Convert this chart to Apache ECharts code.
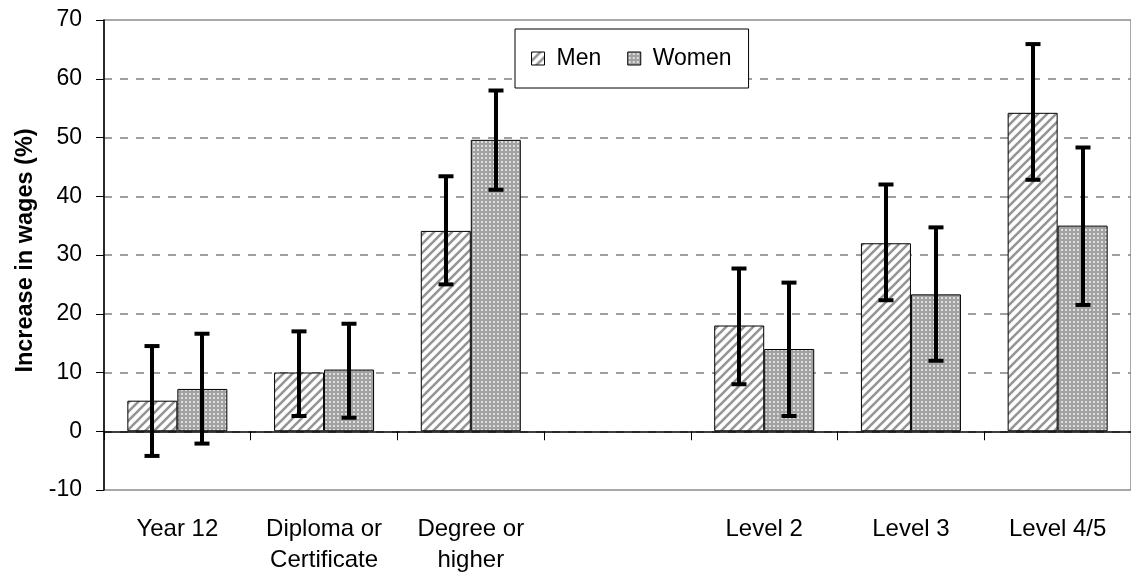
<!DOCTYPE html>
<html>
<head>
<meta charset="utf-8">
<script src="https://cdn.jsdelivr.net/npm/echarts@6/dist/echarts.min.js"></script>
<style>
html,body{margin:0;padding:0;background:#fff;}
#chart{width:1131px;height:576px;}
</style>
</head>
<body>
<div id="chart"></div>
<script>
const categories = ['Year 12', 'Diploma or\nCertificate', 'Degree or\nhigher', '', 'Level 2', 'Level 3', 'Level 4/5'];
const menValues   = [5.2, 10.0, 34.1, '-', 18.0, 32.0, 54.2];
const womenValues = [7.2, 10.5, 49.6, '-', 14.0, 23.3, 35.0];
const menLow      = [-4.2, 2.6, 25.0, '-', 8.0, 22.3, 42.8];
const menHigh     = [14.5, 17.0, 43.4, '-', 27.7, 42.0, 65.9];
const womenLow    = [-2.1, 2.3, 41.1, '-', 2.6, 12.0, 21.5];
const womenHigh   = [16.6, 18.3, 58.0, '-', 25.3, 34.7, 48.3];
const yTicks = {min: -10, max: 70, interval: 10};

function hatchPattern() {
  const c = document.createElement('canvas');
  c.width = 9; c.height = 9;
  const g = c.getContext('2d');
  g.fillStyle = '#ffffff'; g.fillRect(0, 0, 9, 9);
  g.strokeStyle = '#959595'; g.lineWidth = 2.6;
  g.beginPath();
  g.moveTo(-1, 10); g.lineTo(10, -1);
  g.moveTo(-5, 5); g.lineTo(5, -5);
  g.moveTo(4, 14); g.lineTo(14, 4);
  g.stroke();
  return c;
}
function dotPattern() {
  const c = document.createElement('canvas');
  c.width = 4; c.height = 4;
  const g = c.getContext('2d');
  g.fillStyle = '#a2a2a2'; g.fillRect(0, 0, 4, 4);
  g.fillStyle = '#dedede'; g.fillRect(1, 1, 2, 2);
  return c;
}
const menFill = {image: hatchPattern(), repeat: 'repeat'};
const womenFill = {image: dotPattern(), repeat: 'repeat'};
const BAR_W = 50;
const FONT = "'Liberation Sans', Arial, sans-serif";

function errData(lo, hi) {
  return categories.map((c, i) => (lo[i] === '-' ? [i, '-', '-'] : [i, lo[i], hi[i]]));
}
function errRender(offset) {
  return function (params, api) {
    const lo = api.value(1), hi = api.value(2);
    if (isNaN(lo) || isNaN(hi)) return;
    const pLo = api.coord([api.value(0), lo]);
    const pHi = api.coord([api.value(0), hi]);
    const x = Math.round(pLo[0] + offset);
    const cap = 7.5;
    const st = {stroke: '#000', lineWidth: 4};
    return {
      type: 'group',
      children: [
        {type: 'line', shape: {x1: x, y1: pLo[1], x2: x, y2: pHi[1]}, style: st},
        {type: 'line', shape: {x1: x - cap, y1: pLo[1], x2: x + cap, y2: pLo[1]}, style: st},
        {type: 'line', shape: {x1: x - cap, y1: pHi[1], x2: x + cap, y2: pHi[1]}, style: st}
      ]
    };
  };
}

const chart = echarts.init(document.getElementById('chart'), null, {renderer: 'canvas'});
chart.setOption({
  animation: false,
  backgroundColor: '#fff',
  textStyle: {fontFamily: FONT, color: '#000'},
  grid: {left: 104, right: -2, top: 20, bottom: 84.4, show: true, borderColor: '#8c8c8c', borderWidth: 1.5, backgroundColor: 'transparent'},
  legend: {
    data: [
      {name: 'Men', itemStyle: {color: menFill, borderColor: '#000', borderWidth: 1}},
      {name: 'Women', itemStyle: {color: womenFill, borderColor: '#000', borderWidth: 1}}
    ],
    left: 515, top: 29,
    padding: [18, 17, 18, 16],
    borderColor: '#000', borderWidth: 1,
    backgroundColor: '#fff',
    icon: 'rect', itemWidth: 13, itemHeight: 13, itemGap: 26,
    textStyle: {fontSize: 23, color: '#000', fontFamily: FONT, padding: [0, 0, 0, 7]}
  },
  xAxis: [
    {
      type: 'category', data: categories, position: 'bottom',
      axisLine: {onZero: true, lineStyle: {color: '#000', width: 1.5}},
      axisTick: {show: true, length: 9, lineStyle: {color: '#000', width: 1}},
      axisLabel: {show: false}, splitLine: {show: false}
    },
    {
      type: 'category', data: categories, position: 'bottom',
      axisLine: {show: false, onZero: false}, axisTick: {show: false},
      axisLabel: {show: true, interval: 0, margin: 24, fontSize: 24, lineHeight: 31, color: '#000', fontFamily: FONT},
      splitLine: {show: false}
    }
  ],
  yAxis: {
    type: 'value', min: yTicks.min, max: yTicks.max, interval: yTicks.interval,
    name: 'Increase in wages (%)', nameLocation: 'middle', nameRotate: 90, nameGap: 66,
    nameTextStyle: {fontSize: 23.5, fontWeight: 'bold', color: '#000', fontFamily: FONT, padding: [0, 0, 0, 9]},
    axisLine: {show: true, lineStyle: {color: '#000', width: 1.5}},
    axisTick: {show: true, length: 8, lineStyle: {color: '#000', width: 1}},
    axisLabel: {fontSize: 23, margin: 22, color: '#000', fontFamily: FONT},
    splitLine: {show: true, showMinLine: false, showMaxLine: false, lineStyle: {color: '#808080', width: 1.5, type: [8, 8]}}
  },
  series: [
    {name: 'Men', type: 'bar', data: menValues, barWidth: BAR_W, barGap: '0%',
     itemStyle: {color: menFill, borderColor: '#000', borderWidth: 1}},
    {name: 'Women', type: 'bar', data: womenValues, barWidth: BAR_W, barGap: '0%',
     itemStyle: {color: womenFill, borderColor: '#000', borderWidth: 1}},
    {name: 'menErr', type: 'custom', renderItem: errRender(-BAR_W / 2), data: errData(menLow, menHigh),
     encode: {x: 0, y: [1, 2]}, z: 5, silent: true},
    {name: 'womenErr', type: 'custom', renderItem: errRender(BAR_W / 2), data: errData(womenLow, womenHigh),
     encode: {x: 0, y: [1, 2]}, z: 5, silent: true}
  ]
});
</script>
</body>
</html>
